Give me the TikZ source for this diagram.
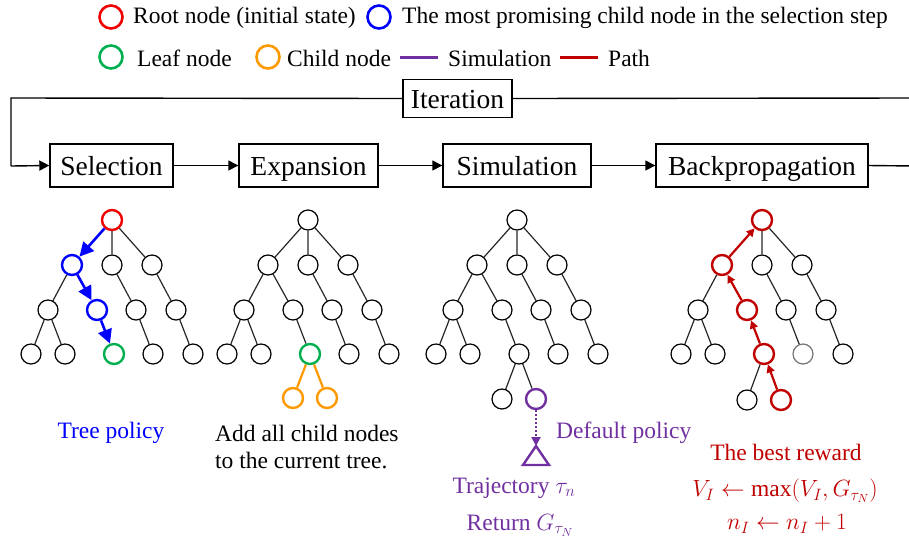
\documentclass[tikz,border=0pt]{standalone}
\usepackage{fix-cm}
\usepackage{fontspec}
\setmainfont{Liberation Serif}
\usetikzlibrary{arrows.meta}
\definecolor{cRed}{RGB}{240,0,0}
\definecolor{cBlue}{RGB}{0,0,255}
\definecolor{cGreen}{RGB}{0,176,80}
\definecolor{cOrange}{RGB}{255,153,0}
\definecolor{cPurple}{RGB}{112,48,160}
\definecolor{cDark}{RGB}{192,0,0}
\tikzset{
  tn/.style={circle, draw=black, line width=1.2pt, minimum size=20pt, inner sep=0pt},
  hl/.style={tn, draw=#1, line width=2.4pt},
  lg/.style={circle, draw=#1, line width=2.6pt, minimum size=23pt, inner sep=0pt},
  tedge/.style={draw=black!85, line width=1.2pt},
  stepbox/.style={draw, line width=1.4pt, minimum height=43pt, inner sep=0pt, text height=22pt, text depth=3pt, font=\fontsize{27.5}{30}\selectfont},
  flow/.style={line width=1.4pt, -{Triangle[length=10pt,width=10pt]}},
  lgtext/.style={anchor=west, inner sep=0pt, font=\fontsize{23.5}{27}\selectfont},
  ann/.style={inner sep=0pt, font=\fontsize{23.5}{27}\selectfont},
  bluearrow/.style={draw=cBlue, line width=2.6pt, -{Triangle[length=14pt,width=14pt]}},
  redarrow/.style={draw=cDark, line width=2.2pt, -{Triangle[length=8pt,width=8pt]}},
}
\newcommand\mctsTree[6]{%
  \node[tn,#2] (#1r) at (112,220) {};
  \node[tn,#3] (#1a) at (72,265) {};
  \node[tn] (#1b) at (112,265) {};
  \node[tn] (#1c) at (152,265) {};
  \node[tn] (#1d) at (48,310) {};
  \node[tn,#4] (#1e) at (97,310) {};
  \node[tn] (#1f) at (136,310) {};
  \node[tn] (#1g) at (176,310) {};
  \node[tn] (#1h) at (31,354) {};
  \node[tn] (#1i) at (65,354) {};
  \node[tn,#5] (#1j) at (114,354) {};
  \node[tn,#6] (#1k) at (153,354) {};
  \node[tn] (#1l) at (193,354) {};
  \draw[tedge] (#1r)--(#1b) (#1r)--(#1c) (#1a)--(#1d) (#1b)--(#1f) (#1c)--(#1g)
    (#1d)--(#1h) (#1d)--(#1i) (#1f)--(#1k) (#1g)--(#1l);
}
\begin{document}
\begin{tikzpicture}[x=1pt,y=-1pt]
\useasboundingbox (0,0) rectangle (909,547);
% legend
\node[lg=cRed] (lgr) at (111,17) {};
\node[lgtext] (lgrt) at (133,18) {Root node (initial state)};
\node[lg=cBlue] (lgb) at (379,17) {};
\node[lgtext] (lgbt) at (402,18) {The most promising child node in the selection step};
\node[lg=cGreen] (lgg) at (111,57) {};
\node[lgtext] (lggt) at (137,58) {Leaf node};
\node[lg=cOrange] (lgo) at (268,57) {};
\node[lgtext] (lgot) at (287,58) {Child node};
\coordinate (lgp1) at (400,57); \coordinate (lgp2) at (438,57);
\draw[cPurple, line width=3pt] (lgp1) -- (lgp2);
\node[lgtext] (lgpt) at (448,58) {Simulation};
\coordinate (lgd1) at (560,57); \coordinate (lgd2) at (598,57);
\draw[cDark, line width=3pt] (lgd1) -- (lgd2);
\node[lgtext] (lgdt) at (608,58) {Path};
% flow
\node[stepbox, minimum width=109pt, minimum height=38pt] (iter) at (457.5,98.5) {Iteration};
\node[stepbox, minimum width=123pt] (sel) at (111.5,165.5) {Selection};
\node[stepbox, minimum width=139pt] (exp) at (308.5,165.5) {Expansion};
\node[stepbox, minimum width=148pt] (sim) at (517,165.5) {Simulation};
\node[stepbox, minimum width=212pt] (bp) at (762,165.5) {Backpropagation};
\coordinate (lpA) at (11,98);
\coordinate (lpB) at (11,166);
\coordinate (rpA) at (915,98);
\coordinate (rpB) at (915,166);
\draw[line width=1.4pt] (iter.west) -- (lpA) -- (lpB);
\draw[flow] (lpB) -- (sel.west);
\draw[line width=1.4pt] (iter.east) -- (rpA) -- (rpB) -- (bp.east);
\draw[flow] (sel) -- (exp);
\draw[flow] (exp) -- (sim);
\draw[flow] (sim) -- (bp);
% tree 1: selection
\mctsTree{s}{hl=cRed}{hl=cBlue}{hl=cBlue}{hl=cGreen}{}
\draw[bluearrow] (sr) -- (sa);
\draw[bluearrow] (sa) -- (se);
\draw[bluearrow] (se) -- (sj);
% tree 2: expansion
\begin{scope}[shift={(196,0)}]
\mctsTree{x}{}{}{}{hl=cGreen}{}
\node[hl=cOrange] (xm) at (97,398) {};
\node[hl=cOrange] (xn) at (131,398) {};
\end{scope}
\draw[tedge] (xr) -- (xa) (xa) -- (xe) (xe) -- (xj);
\draw[cOrange, line width=2.2pt] (xj) -- (xm) (xj) -- (xn);
% tree 3: simulation
\begin{scope}[shift={(405,0)}]
\mctsTree{y}{}{}{}{}{}
\node[tn] (ym) at (97,399) {};
\node[hl=cPurple] (yn) at (131,399) {};
\coordinate (tri) at (131,446);
\end{scope}
\draw[tedge] (yr) -- (ya) (ya) -- (ye) (ye) -- (yj) (yj) -- (ym) (yj) -- (yn);
\draw[cPurple, line width=2pt, dotted, -{Triangle[length=9pt,width=9pt]}] (yn) -- (tri);
\draw[cPurple, line width=2.4pt, line join=miter] (tri) -- ++(13,19) -- ++(-26,0) -- cycle;
% tree 4: backpropagation
\begin{scope}[shift={(650,0)}]
\mctsTree{z}{hl=cDark}{hl=cDark}{hl=cDark}{hl=cDark}{draw=black!55}
\node[tn] (zm) at (97,400) {};
\node[hl=cDark] (zn) at (131,400) {};
\end{scope}
\draw[tedge] (zj) -- (zm);
\draw[redarrow] (zn) -- (zj);
\draw[redarrow] (zj) -- (ze);
\draw[redarrow] (ze) -- (za);
\draw[redarrow] (za) -- (zr);
% annotations
\node[ann, text=cBlue] (tp) at (111,433) {Tree policy};
\node[ann, anchor=west, align=left] (addt) at (215,447) {Add all child nodes\\to the current tree.};
\node[ann, anchor=west, text=cPurple] (dp) at (556,433) {Default policy};
\node[ann, text=cPurple] (traj) at (514,488) {Trajectory $\tau_n$};
\node[ann, text=cPurple] (ret) at (520,525) {Return $G_{\tau_N}$};
\node[ann, text=cDark] (best) at (786,452) {The best reward};
\node[ann, text=cDark] (veq) at (785,491) {$V_I \leftarrow \max\Bigl(V_I, G_{\tau_N}\Bigr)$};
\node[ann, text=cDark] (neq) at (787,524) {$n_I \leftarrow n_I + 1$};
\end{tikzpicture}
\end{document}
